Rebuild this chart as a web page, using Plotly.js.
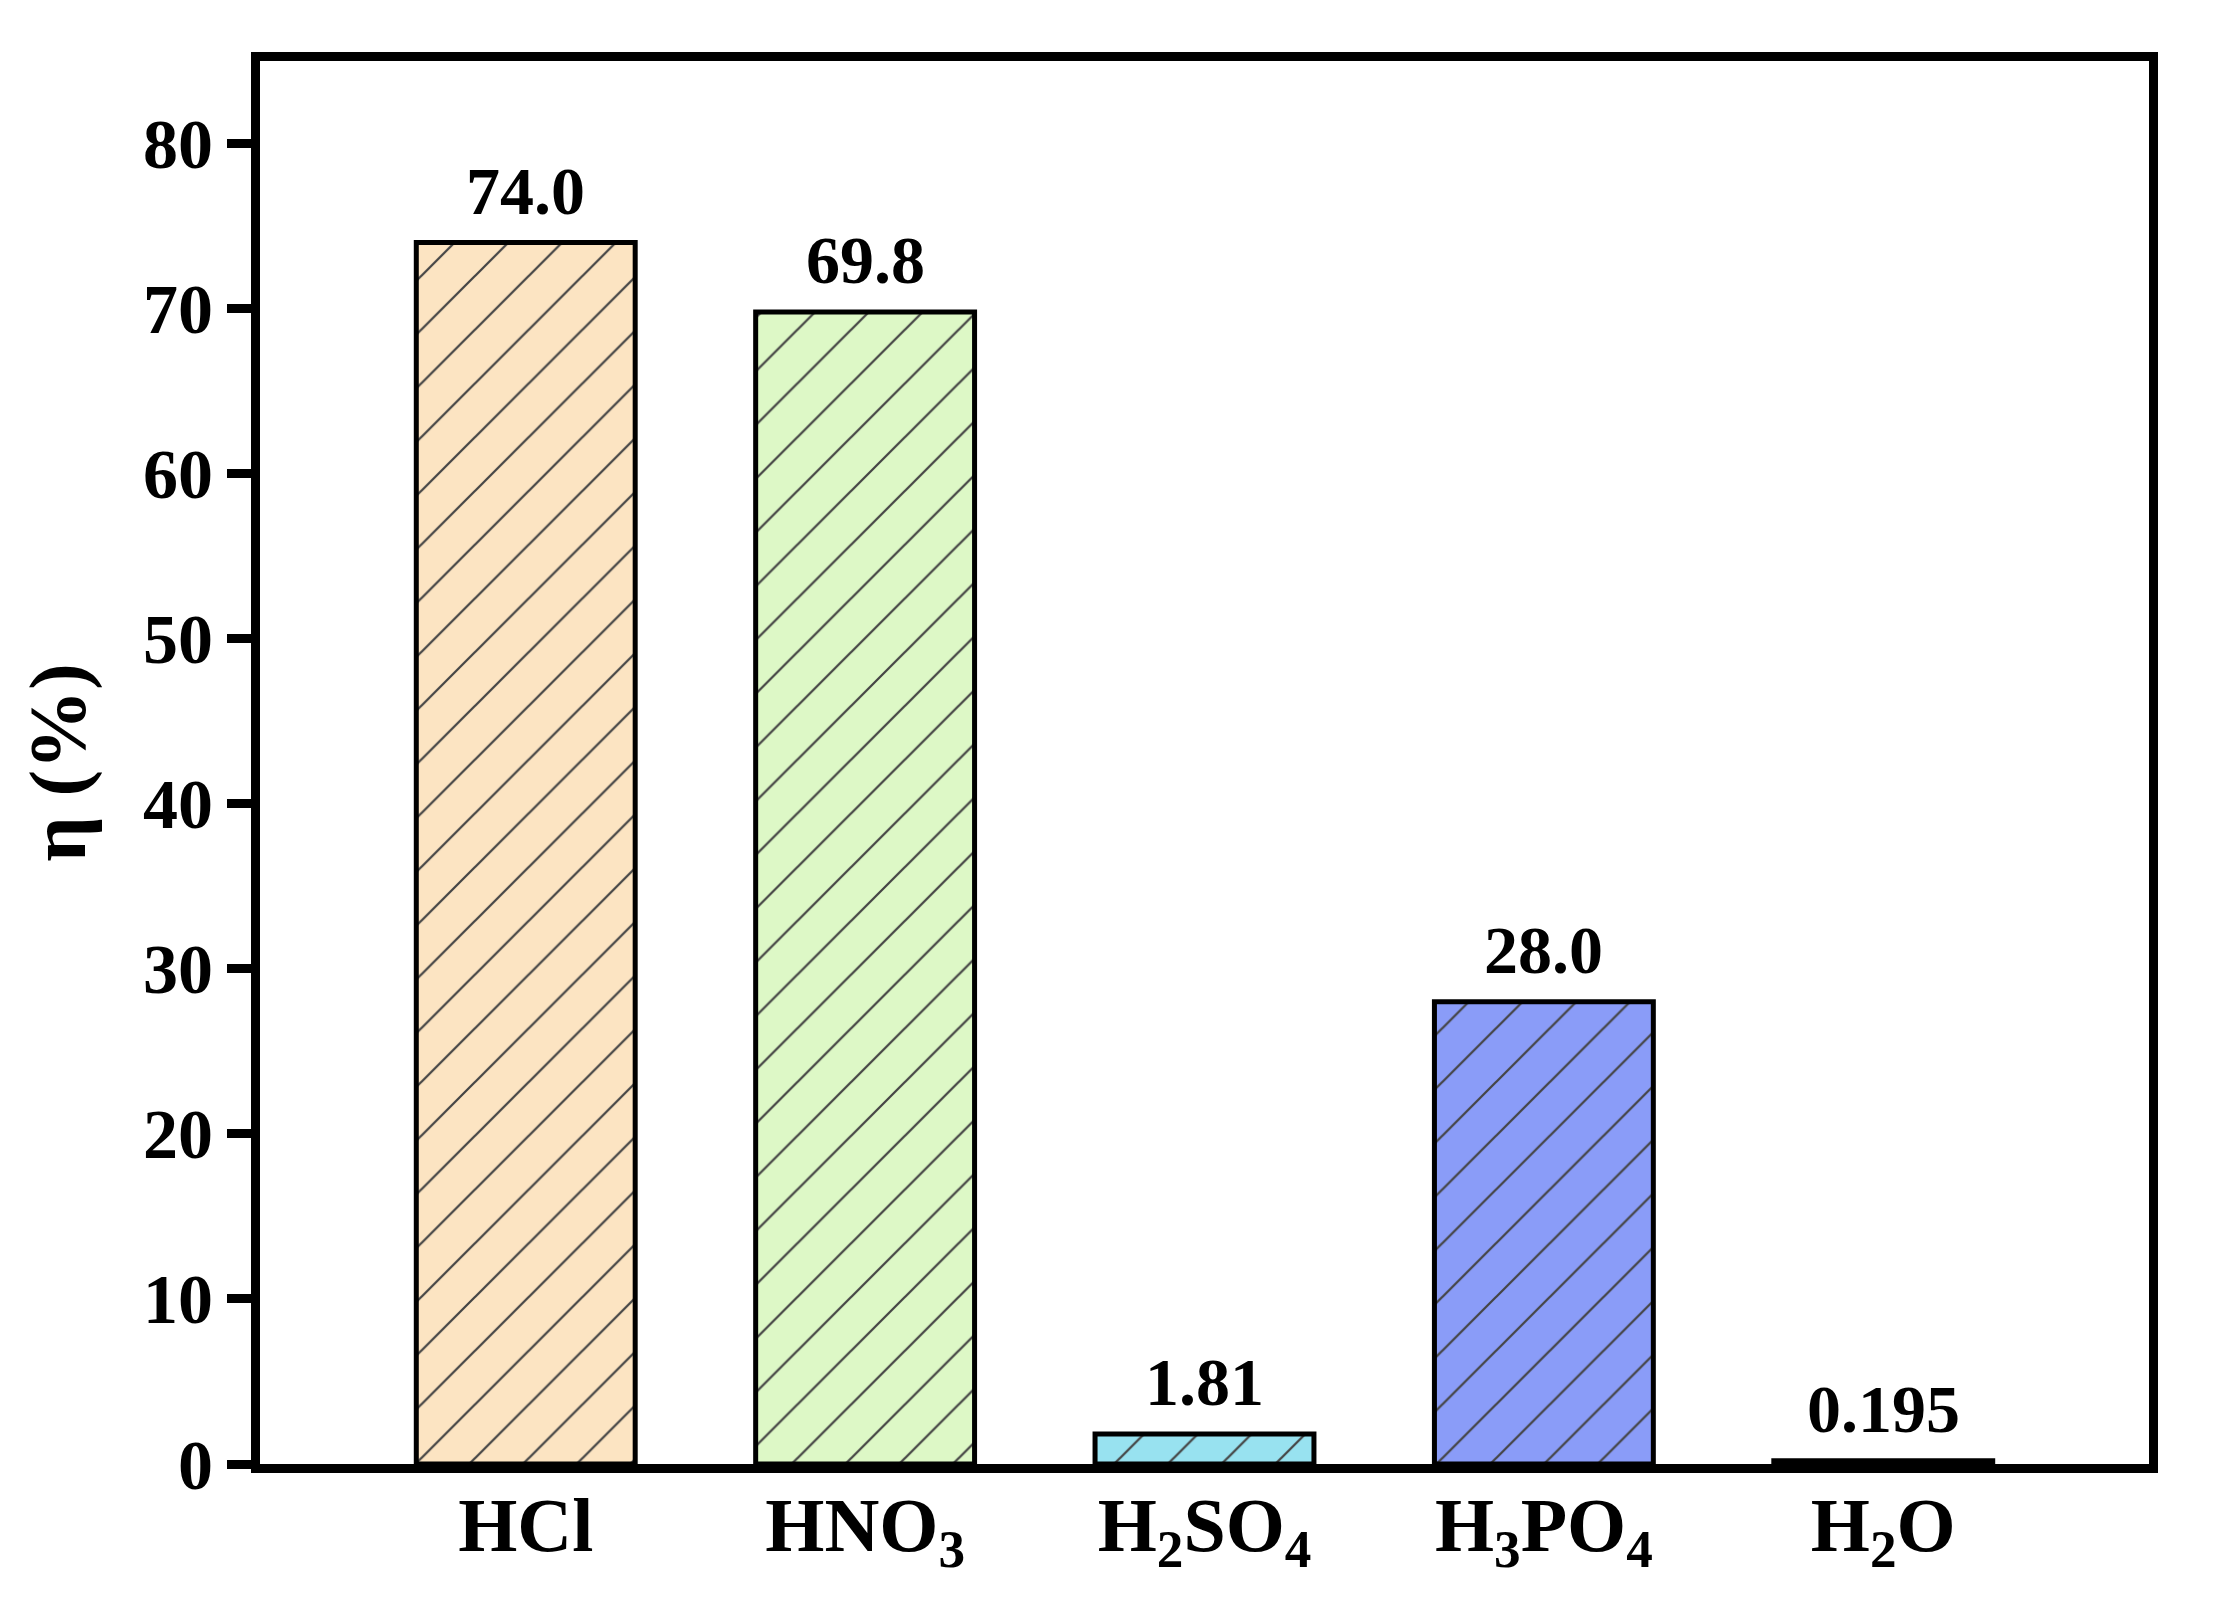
<!DOCTYPE html>
<html>
<head>
<meta charset="utf-8">
<script src="https://cdn.plot.ly/plotly-3.0.1.min.js"></script>
<style>
  body { margin: 0; background: #fff; }
  #chart { width: 2213px; height: 1621px; }
</style>
</head>
<body>
<div id="chart"></div>
<script>
// Leaching efficiency per acid
const acids = ['HCl', 'HNO3', 'H2SO4', 'H3PO4', 'H2O'];
const acidLabels = ['HCl', 'HNO<sub>3</sub>', 'H<sub>2</sub>SO<sub>4</sub>', 'H<sub>3</sub>PO<sub>4</sub>', 'H<sub>2</sub>O'];
const efficiency = [74.0, 69.8, 1.81, 28.0, 0.195];
const valueLabels = ['74.0', '69.8', '1.81', '28.0', '0.195'];
const barColors = ['#fce4c2', '#ddf8c6', '#98e2f0', '#8a9cf8', '#f3c6e6'];
const yTicks = [0, 10, 20, 30, 40, 50, 60, 70, 80];

const serif = 'Liberation Serif';

var trace = {
  x: acids,
  y: efficiency,
  type: 'bar',
  width: 0.645,
  marker: {
    color: barColors,
    line: { color: '#000', width: 5 },
    pattern: {
      shape: '/',
      fillmode: 'overlay',
      fgcolor: '#000',
      fgopacity: 1,
      size: 38,
      solidity: 0.06
    }
  },
  hoverinfo: 'none'
};

// value labels above each bar
var notes = acids.map(function(a, i) {
  return {
    x: a,
    y: efficiency[i],
    text: '<b>' + valueLabels[i] + '</b>',
    showarrow: false,
    xanchor: 'center',
    yanchor: 'bottom',
    yshift: 12,
    font: { family: serif, size: 68, color: '#000' }
  };
});

var layout = {
  width: 2213,
  height: 1621,
  margin: { l: 260, r: 64, t: 61, b: 157 },
  paper_bgcolor: '#fff',
  plot_bgcolor: '#fff',
  showlegend: false,
  font: { family: serif, color: '#000' },
  xaxis: {
    range: [-0.783, 4.783],
    tickvals: acids,
    ticktext: acidLabels.map(function(t) { return '<b>' + t + '</b>'; }),
    ticks: '',
    showline: true,
    linecolor: '#000',
    linewidth: 9,
    mirror: true,
    showgrid: false,
    zeroline: false,
    ticklabelstandoff: -13,
    tickfont: { family: serif, size: 76, color: '#000' }
  },
  yaxis: {
    range: [0, 85],
    tickvals: yTicks,
    ticktext: yTicks.map(function(v) { return '<b>' + v + '</b>'; }),
    ticks: 'outside',
    ticklen: 24,
    tickwidth: 9,
    tickcolor: '#000',
    showline: true,
    linecolor: '#000',
    linewidth: 9,
    mirror: true,
    showgrid: false,
    zeroline: false,
    automargin: false,
    tickfont: { family: serif, size: 70, color: '#000' },
    title: {
      text: '<b>η (%)</b>',
      standoff: 35,
      font: { family: serif, size: 80, color: '#000' }
    }
  },
  annotations: notes
};

Plotly.newPlot('chart', [trace], layout, { staticPlot: true });
</script>
</body>
</html>
